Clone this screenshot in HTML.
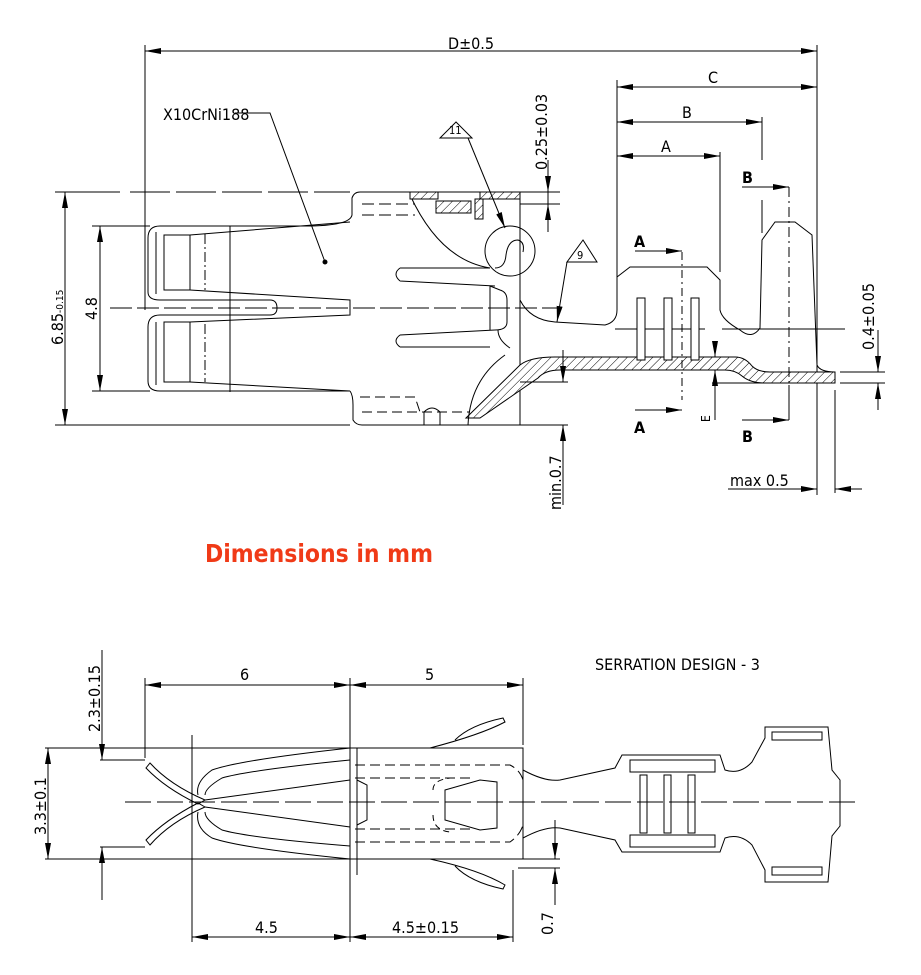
<!DOCTYPE html>
<html><head><meta charset="utf-8"><style>
html,body{margin:0;padding:0;background:#fff;}
svg{display:block;}
text{font-family:"DejaVu Sans Condensed","Liberation Sans Narrow","Liberation Sans",sans-serif;fill:#000;}
</style></head><body>
<svg width="921" height="975" viewBox="0 0 921 975" xmlns="http://www.w3.org/2000/svg">
<defs>
<marker id="a" viewBox="0 0 16 6" refX="16" refY="3" markerWidth="16" markerHeight="6" orient="auto-start-reverse" markerUnits="userSpaceOnUse"><path d="M0,0L16,3L0,6z" fill="#000"/></marker>
<pattern id="h" width="6" height="6" patternUnits="userSpaceOnUse" patternTransform="rotate(45)"><rect width="6" height="6" fill="#fff"/><line x1="0" y1="0" x2="0" y2="6" stroke="#000" stroke-width="1"/></pattern>
</defs>
<g stroke="#000" stroke-width="1" fill="none">
<line x1="145" y1="51" x2="817" y2="51" marker-start="url(#a)" marker-end="url(#a)"/>
<line x1="145" y1="45" x2="145" y2="310"/>
<line x1="817" y1="45" x2="817" y2="495"/>
<line x1="617" y1="87" x2="817" y2="87" marker-start="url(#a)" marker-end="url(#a)"/>
<line x1="617" y1="122" x2="762" y2="122" marker-start="url(#a)" marker-end="url(#a)"/>
<line x1="617" y1="156" x2="720" y2="156" marker-start="url(#a)" marker-end="url(#a)"/>
<line x1="617" y1="80" x2="617" y2="275"/>
<line x1="762" y1="117" x2="762" y2="160"/>
<line x1="762" y1="200" x2="762" y2="233"/>
<line x1="720" y1="152" x2="720" y2="272"/>
<line x1="65" y1="192" x2="65" y2="425" marker-start="url(#a)" marker-end="url(#a)"/>
<line x1="100" y1="226" x2="100" y2="391" marker-start="url(#a)" marker-end="url(#a)"/>
<line x1="55" y1="192" x2="120" y2="192"/><line x1="130" y1="192" x2="350" y2="192" stroke-dasharray="40,6"/>
<line x1="55" y1="425" x2="350" y2="425"/>
<line x1="92" y1="226" x2="150" y2="226"/><line x1="92" y1="391" x2="150" y2="391"/>
<line x1="110" y1="308" x2="560" y2="308" stroke-dasharray="22,5"/>
<line x1="615" y1="329" x2="705" y2="329"/><line x1="722" y1="329" x2="845" y2="329"/>
<path d="M305,226 L160,226 Q148,226 148,238 L148,292 Q148,300 160,300 L270,300 Q277,300 277,308 Q277,315 270,315 L160,315 Q148,315 148,327 L148,381 Q148,391 160,391 L350,391"/>
<path d="M305,226 Q350,226 352,215 L352,198 Q354,192 360,192 L520,192"/>
<path d="M156,232 L156,294 M156,322 L156,385"/>
<path d="M164,235 L190,235 L190,290 L164,290 Z M164,322 L190,322 L190,382 L164,382 Z"/>
<line x1="205" y1="234" x2="205" y2="290" stroke-dasharray="10,3,2,3"/>
<line x1="205" y1="324" x2="205" y2="382" stroke-dasharray="10,3,2,3"/>
<line x1="230" y1="226" x2="230" y2="392"/>
<path d="M190,235 L350,222 M190,290 L350,300 L350,315 L190,322 M190,382 L350,391"/>
<path d="M350,391 Q353,395 353,405 L353,420 Q356,425 362,425 L520,425 L520,192"/>
<path d="M362,204 L415,204 M362,215 L415,215" stroke-dasharray="12,5"/>
<path d="M360,397 L415,397 L420,412 M362,412 L470,412" stroke-dasharray="10,5"/>
<path d="M424,425 L424,412 Q432,404 440,412 L440,425"/>
<path d="M400,268 L490,268 M400,281 L495,286 M400,268 Q392,274 400,281"/>
<path d="M400,335 L495,330 M400,347 L490,347 M400,335 Q392,341 400,347"/>
<path d="M490,286 L500,290 Q507,292 507,300 L507,322 Q507,330 495,330"/>
<line x1="490" y1="286" x2="490" y2="330"/>
<path d="M410,195 Q440,260 490,268"/>
<path d="M520,300 Q530,320 555,322 L605,325 Q617,322 617,310 L617,275"/>
<circle cx="510" cy="251" r="25"/>
<path d="M495,268 Q505,268 506,255 Q508,240 518,240 Q525,242 523,252"/>
<rect x="410" y="192" width="28" height="7" fill="url(#h)" stroke="#000"/>
<rect x="480" y="192" width="40" height="7" fill="url(#h)" stroke="#000"/>
<rect x="436" y="201" width="35" height="12" fill="url(#h)" stroke="#000"/>
<rect x="475" y="199" width="8" height="20" fill="url(#h)" stroke="#000"/>
<path d="M466,418 L520,365 Q530,357 555,357 L735,357 Q745,357 752,366 Q758,372 770,372 L835,372 L835,383 L765,383 Q750,383 742,376 Q735,370 725,370 L560,370 Q545,370 538,378 L480,418 Z" fill="url(#h)"/>
<path d="M468,425 Q470,380 505,355 M510,348 Q498,340 498,330" />
<line x1="548" y1="190" x2="548" y2="232"/>
<line x1="520" y1="192" x2="560" y2="192"/><line x1="520" y1="204" x2="560" y2="204"/>
<line x1="548" y1="160" x2="548" y2="192" marker-end="url(#a)"/><line x1="548" y1="228" x2="548" y2="204" marker-end="url(#a)"/>
<path d="M617,277 L630,267 L707,267 L720,280 L720,310 Q722,320 740,330 Q752,340 760,328 L762,240 L775,222 L795,222 L812,235 L817,365 Q820,372 835,372"/>
<rect x="637" y="298" width="8" height="62" fill="#fff"/><rect x="664" y="298" width="8" height="62" fill="#fff"/><rect x="691" y="298" width="8" height="62" fill="#fff"/>
<line x1="682" y1="252" x2="682" y2="400" stroke-dasharray="8,4,2,4"/>
<line x1="789" y1="187" x2="789" y2="420" stroke-dasharray="10,4,2,4"/>
<line x1="635" y1="251" x2="682" y2="251" marker-end="url(#a)"/>
<line x1="635" y1="410" x2="682" y2="410" marker-end="url(#a)"/>
<line x1="742" y1="187" x2="789" y2="187" marker-end="url(#a)"/>
<line x1="742" y1="420" x2="789" y2="420" marker-end="url(#a)"/><line x1="789" y1="385" x2="789" y2="420"/>
<line x1="715" y1="343" x2="715" y2="357" marker-end="url(#a)"/>
<line x1="715" y1="420" x2="715" y2="370" marker-end="url(#a)"/><line x1="712" y1="383" x2="790" y2="383"/>
<line x1="840" y1="372" x2="885" y2="372"/><line x1="840" y1="383" x2="885" y2="383"/>
<line x1="878" y1="330" x2="878" y2="372" marker-end="url(#a)"/><line x1="878" y1="410" x2="878" y2="383" marker-end="url(#a)"/>
<line x1="835" y1="390" x2="835" y2="493"/>
<line x1="728" y1="489" x2="817" y2="489" marker-end="url(#a)"/><line x1="862" y1="489" x2="835" y2="489" marker-end="url(#a)"/>
<line x1="520" y1="382" x2="568" y2="382"/><line x1="510" y1="425" x2="568" y2="425"/>
<line x1="563" y1="350" x2="563" y2="382" marker-end="url(#a)"/><line x1="563" y1="505" x2="563" y2="425" marker-end="url(#a)"/>
<path d="M235,113 L270,113 L325,262"/><circle cx="325" cy="262" r="2" fill="#000"/>
<path d="M456,122 L440,138 L472,138 Z"/><path d="M468,138 L505,228" marker-end="url(#a)"/>
<path d="M583,240 L567,262 L597,262 Z"/><path d="M567,262 L557,322" marker-end="url(#a)"/>

<line x1="125" y1="802" x2="860" y2="802" stroke-dasharray="26,6"/>
<line x1="45" y1="748" x2="523" y2="748"/><line x1="45" y1="859" x2="560" y2="859"/>
<line x1="48" y1="748" x2="48" y2="859" marker-start="url(#a)" marker-end="url(#a)"/>
<line x1="102" y1="650" x2="102" y2="760" marker-end="url(#a)"/><line x1="102" y1="900" x2="102" y2="847" marker-end="url(#a)"/>
<line x1="100" y1="760" x2="145" y2="760"/><line x1="100" y1="847" x2="145" y2="847"/>
<line x1="145" y1="685" x2="350" y2="685" marker-start="url(#a)" marker-end="url(#a)"/>
<line x1="350" y1="685" x2="523" y2="685" marker-start="url(#a)" marker-end="url(#a)"/>
<line x1="145" y1="678" x2="145" y2="758"/><line x1="350" y1="678" x2="350" y2="942"/><line x1="523" y1="678" x2="523" y2="745"/>
<line x1="192" y1="937" x2="350" y2="937" marker-start="url(#a)" marker-end="url(#a)"/>
<line x1="350" y1="937" x2="513" y2="937" marker-start="url(#a)" marker-end="url(#a)"/>
<line x1="192" y1="735" x2="192" y2="942"/>
<line x1="513" y1="870" x2="513" y2="942"/>
<line x1="518" y1="868" x2="560" y2="868"/>
<line x1="555" y1="820" x2="555" y2="859" marker-end="url(#a)"/><line x1="555" y1="905" x2="555" y2="868" marker-end="url(#a)"/>
<path d="M350,748 L523,748 L523,859 L350,859 Z"/>
<path d="M357,748 L357,875"/>
<path d="M355,765 L510,765 Q520,770 523,780 M355,842 L510,842 Q520,835 523,825" stroke-dasharray="10,5"/>
<path d="M355,778 L470,778 M355,829 L470,829" stroke-dasharray="10,5"/>
<path d="M445,790 L480,780 L497,782 L497,828 L480,830 L445,820 Z M445,790 L445,820"/>
<path d="M433,790 Q433,780 450,778 M433,815 Q433,830 450,832" stroke-dasharray="6,4"/>
<path d="M357,780 L367,785 L367,820 L357,825"/>
<path d="M350,748 Q240,760 212,770 Q195,782 198,795 M350,760 Q250,770 222,778 Q205,788 205,795"/>
<path d="M350,859 Q240,848 212,838 Q195,828 198,812 M350,846 Q250,838 222,830 Q205,820 205,812"/>
<path d="M350,780 L205,800 M350,827 L205,807"/>
<path d="M150,763 Q170,785 205,800 L198,804 Q165,788 146,768 Z"/>
<path d="M150,845 Q170,822 205,807 L198,803 Q165,820 146,840 Z"/>
<path d="M430,748 Q480,735 505,722 L503,718 Q470,725 455,740"/>
<path d="M430,859 Q480,870 505,885 L503,889 Q470,882 455,866"/>
<path d="M523,770 Q545,782 560,780 L615,768 L622,755 L720,755 L725,770 Q740,775 752,762 L765,738 L765,727 L828,727 L832,770 L840,780 L840,826 L832,836 L828,882 L765,882 L765,870 L752,845 Q740,833 725,838 L720,852 L622,852 L615,840 L560,828 Q545,826 523,838"/>
<rect x="630" y="760" width="85" height="12"/><rect x="630" y="835" width="85" height="12"/>
<rect x="772" y="732" width="50" height="8"/><rect x="772" y="867" width="50" height="8"/>
<rect x="640" y="775" width="7" height="58"/><rect x="664" y="775" width="7" height="58"/><rect x="688" y="775" width="7" height="58"/>
</g>
<g font-size="16">
<text x="448" y="49">D±0.5</text>
<text x="708" y="83">C</text><text x="682" y="118">B</text><text x="661" y="152">A</text>
<text x="163" y="120">X10CrNi188</text>
<text x="449" y="134" font-size="11">11</text><text x="577" y="259" font-size="11">9</text>
<text transform="translate(547,170) rotate(-90)">0.25±0.03</text>
<text transform="translate(874,350) rotate(-90)">0.4±0.05</text>
<text transform="translate(63,345) rotate(-90)">6.85<tspan font-size="10">-0.15</tspan></text>
<text transform="translate(97,320) rotate(-90)">4.8</text>
<text transform="translate(561,510) rotate(-90)">min.0.7</text>
<text x="730" y="486">max 0.5</text>
<text transform="translate(710,422) rotate(-90)" font-size="12">E</text>
<text x="634" y="247" font-weight="bold" font-family="Liberation Sans">A</text>
<text x="634" y="433" font-weight="bold" font-family="Liberation Sans">A</text>
<text x="742" y="183" font-weight="bold" font-family="Liberation Sans">B</text>
<text x="742" y="442" font-weight="bold" font-family="Liberation Sans">B</text>
<text x="205" y="562" font-size="25" font-weight="bold" font-family="Liberation Sans" style="fill:#f03a17" textLength="228" lengthAdjust="spacingAndGlyphs">Dimensions in mm</text>
<text x="595" y="670">SERRATION DESIGN - 3</text>
<text x="240" y="680">6</text><text x="425" y="680">5</text>
<text x="255" y="933">4.5</text><text x="392" y="933">4.5±0.15</text>
<text transform="translate(46,835) rotate(-90)">3.3±0.1</text>
<text transform="translate(100,732) rotate(-90)">2.3±0.15</text>
<text transform="translate(553,935) rotate(-90)">0.7</text>
</g>
</svg>
</body></html>
